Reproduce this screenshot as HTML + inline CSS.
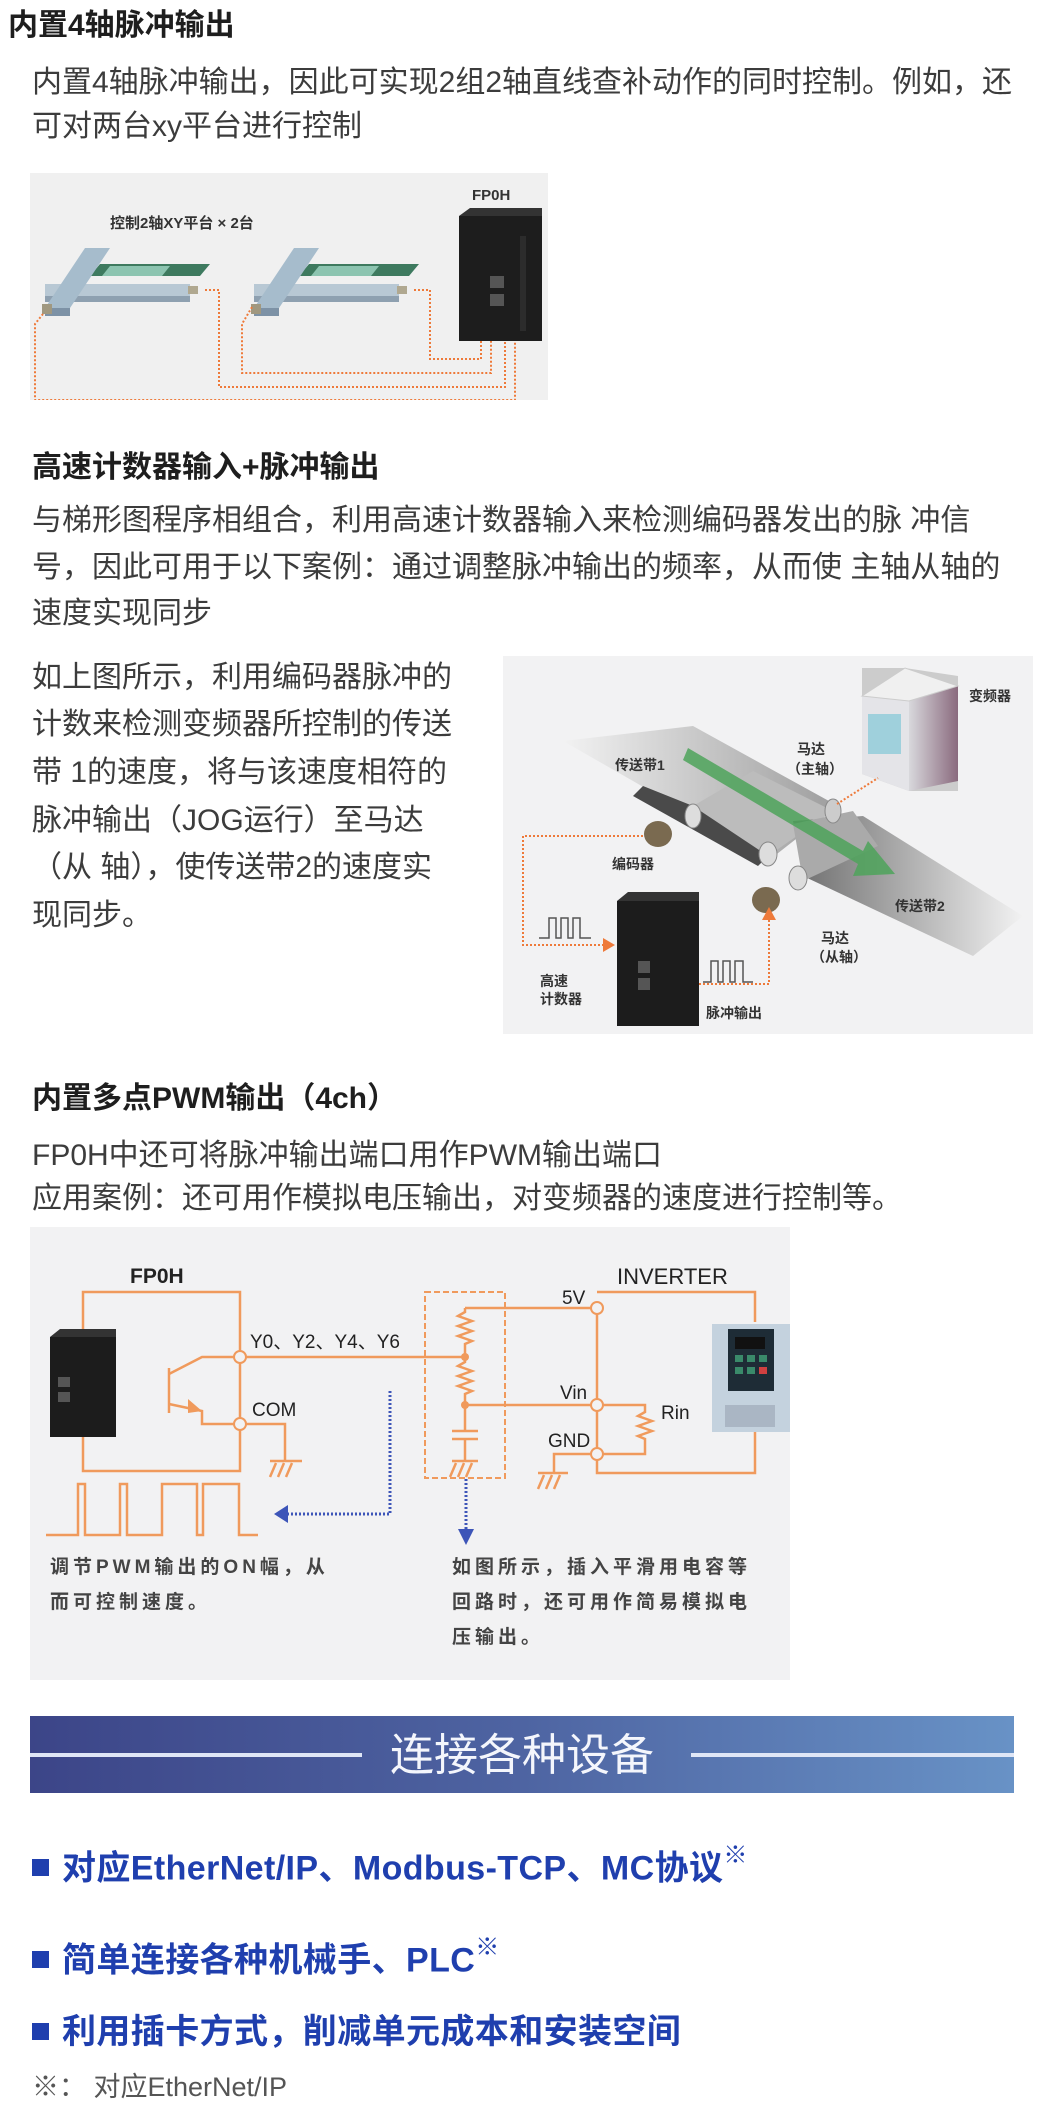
<!DOCTYPE html>
<html><head><meta charset="utf-8">
<style>
*{margin:0;padding:0;box-sizing:border-box}
body{width:1048px;height:2116px;background:#fff;position:relative;overflow:hidden;font-family:"Liberation Sans","Noto Sans CJK SC",sans-serif}
.t{position:absolute;white-space:nowrap;line-height:46px;height:46px}
.h{font-size:30px;font-weight:bold;color:#1e1e1e}
.p{font-size:30px;color:#3c3c3c;left:32px}
.b{font-size:34px;font-weight:bold;color:#1f3fae;left:32px;letter-spacing:0.4px}
.b i{display:inline-block;width:17px;height:17px;background:#1f3fae;margin-right:13px;vertical-align:middle;position:relative;top:-3px}
.b sup{font-size:24px;font-weight:normal;position:relative;top:-4px}
svg{position:absolute}
</style></head><body>

<div class="t h" style="left:8px;top:3px">内置4轴脉冲输出</div>
<div class="t p" style="top:60px">内置4轴脉冲输出，因此可实现2组2轴直线查补动作的同时控制。例如，还</div>
<div class="t p" style="top:104px">可对两台xy平台进行控制</div>

<svg style="left:30px;top:173px" width="518" height="227" viewBox="0 -3 518 227">
<rect x="0" y="-3" width="518" height="230" fill="#f0f0f0"/>
<text x="80" y="52" font-size="15" font-weight="bold" fill="#333" font-family="Liberation Sans,Noto Sans CJK SC,sans-serif">控制2轴XY平台  × 2台</text>
<text x="442" y="24" font-size="15" font-weight="bold" fill="#333" font-family="Liberation Sans,sans-serif">FP0H</text>
<g id="tb">
<polygon points="70,88 180,88 170,100 60,100" fill="#3e7a5f"/>
<polygon points="80,90 140,90 132,100 72,100" fill="#8cc4b0"/>
<polygon points="15,108 160,108 160,120 15,120" fill="#b8c8d4"/>
<polygon points="15,120 160,120 160,126 15,126" fill="#8ea0b0"/>
<polygon points="55,72 80,72 40,132 15,132" fill="#a6bccc"/>
<polygon points="15,132 40,132 40,140 15,140" fill="#7d92a6"/>
<rect x="158" y="110" width="10" height="8" fill="#b0a890"/>
<rect x="12" y="128" width="10" height="10" fill="#a09880"/>
</g>
<use href="#tb" x="209"/>
<g fill="none" stroke="#ee7a3a" stroke-width="2" stroke-dasharray="2 2">
<path d="M384,114 H400 V183 H451 V165"/>
<path d="M222,131 L212,148 V197 H461 V165"/>
<path d="M175,114 H189 V211 H475 V165"/>
<path d="M13,138 L5,148 V224 H485 V165"/>
</g>
<rect x="429" y="40" width="83" height="125" fill="#1d1d1d"/>
<polygon points="429,40 440,32 512,32 512,40" fill="#333"/>
<rect x="460" y="100" width="14" height="12" fill="#555"/><rect x="460" y="118" width="14" height="12" fill="#555"/>
<rect x="490" y="60" width="6" height="95" fill="#2c2c2c"/>
</svg>

<div class="t h" style="left:32px;top:445px">高速计数器输入+脉冲输出</div>
<div class="t p" style="top:498px">与梯形图程序相组合，利用高速计数器输入来检测编码器发出的脉 冲信</div>
<div class="t p" style="top:545px">号，因此可用于以下案例：通过调整脉冲输出的频率，从而使 主轴从轴的</div>
<div class="t p" style="top:591px">速度实现同步</div>

<div class="t p" style="top:655px">如上图所示，利用编码器脉冲的</div>
<div class="t p" style="top:702px">计数来检测变频器所控制的传送</div>
<div class="t p" style="top:750px">带 1的速度，将与该速度相符的</div>
<div class="t p" style="top:798px">脉冲输出（JOG运行）至马达</div>
<div class="t p" style="top:845px">（从 轴），使传送带2的速度实</div>
<div class="t p" style="top:893px">现同步。</div>

<svg style="left:503px;top:656px" width="530" height="378" viewBox="0 0 530 378" font-family="Liberation Sans,Noto Sans CJK SC,sans-serif">
<defs>
<linearGradient id="fade" x1="0" y1="0" x2="1" y2="0"><stop offset="0" stop-color="#f2f2f2"/><stop offset="1" stop-color="#888"/></linearGradient>
<linearGradient id="fade2" x1="0" y1="0" x2="1" y2="0"><stop offset="0" stop-color="#555"/><stop offset="1" stop-color="#f2f2f2"/></linearGradient>
<linearGradient id="inv" x1="0" y1="0" x2="1" y2="0"><stop offset="0" stop-color="#d8d8dc"/><stop offset="1" stop-color="#8a6a7e"/></linearGradient>
</defs>
<rect width="530" height="378" fill="#f2f2f3"/>
<polygon points="60,85 190,70 335,150 265,205 130,125" fill="url(#fade)" opacity="0.8"/>
<polygon points="190,150 250,115 330,155 265,200" fill="#bcbcbc"/>
<polygon points="140,130 190,150 265,200 255,210 130,140" fill="#4a4a4a"/>
<polygon points="290,165 360,160 520,260 470,300 300,220" fill="url(#fade2)" opacity="0.85"/>
<polygon points="290,168 350,155 375,190 300,225" fill="#aaa"/>
<ellipse cx="190" cy="160" rx="8" ry="12" fill="#ddd" stroke="#888"/>
<ellipse cx="265" cy="198" rx="9" ry="12" fill="#ddd" stroke="#888"/>
<ellipse cx="330" cy="155" rx="8" ry="12" fill="#ccc" stroke="#888"/>
<ellipse cx="295" cy="222" rx="9" ry="12" fill="#ddd" stroke="#888"/>
<polygon points="185,92 360,195 365,185 392,218 350,220 355,208 180,104" fill="#4ea35a" opacity="0.85"/>
<ellipse cx="155" cy="178" rx="14" ry="13" fill="#7a6a50"/>
<ellipse cx="263" cy="244" rx="14" ry="13" fill="#7a6a50"/>
<polygon points="359,12 402,12 455,20 455,135 406,135 359,118" fill="#ccc"/>
<polygon points="359,40 406,45 406,135 359,118" fill="#e4e4e8"/>
<polygon points="406,45 455,30 455,125 406,135" fill="url(#inv)"/>
<polygon points="359,40 406,45 455,30 402,12" fill="#f0f0f0" stroke="#ccc"/>
<rect x="365" y="58" width="33" height="40" fill="#9fd0dc"/>
<g fill="none" stroke="#ee7a3a" stroke-width="2" stroke-dasharray="2 2">
<path d="M140,180 H20 V289 H100"/>
<path d="M196,328 H266 V262"/>
<path d="M334,148 L375,122"/>
</g>
<polygon points="100,282 112,289 100,296" fill="#ee7a3a"/>
<polygon points="259,264 266,251 273,264" fill="#ee7a3a"/>
<path d="M36,282 H46 V262 H53 V282 H58 V262 H65 V282 H70 V262 H77 V282 H88" fill="none" stroke="#555" stroke-width="1.5"/>
<path d="M200,326 H208 V305 H215 V326 H220 V305 H227 V326 H232 V305 H240 V326 H250" fill="none" stroke="#555" stroke-width="1.5"/>
<rect x="114" y="245" width="82" height="125" fill="#1c1c1c"/>
<polygon points="114,245 125,236 196,236 196,245" fill="#333"/>
<rect x="135" y="305" width="12" height="12" fill="#555"/><rect x="135" y="322" width="12" height="12" fill="#555"/>
<g font-size="14" font-weight="bold" fill="#333">
<text x="466" y="45">变频器</text>
<text x="294" y="98">马达</text><text x="284" y="118">（主轴）</text>
<text x="112" y="114">传送带1</text>
<text x="109" y="213">编码器</text>
<text x="392" y="255">传送带2</text>
<text x="318" y="287">马达</text><text x="308" y="306">（从轴）</text>
<text x="37" y="330">高速</text><text x="37" y="348">计数器</text>
<text x="203" y="362">脉冲输出</text>
</g>
</svg>

<div class="t h" style="left:32px;top:1076px">内置多点PWM输出（4ch）</div>
<div class="t p" style="top:1133px">FP0H中还可将脉冲输出端口用作PWM输出端口</div>
<div class="t p" style="top:1176px">应用案例：还可用作模拟电压输出，对变频器的速度进行控制等。</div>

<svg style="left:30px;top:1227px" width="760" height="453" viewBox="0 0 760 453" font-family="Liberation Sans,Noto Sans CJK SC,sans-serif">
<rect width="760" height="453" fill="#f2f2f3"/>
<g fill="none" stroke="#f09a5c" stroke-width="2.5">
<path d="M53,65 H210 V244 H53 Z"/>
<path d="M216,130 H435"/>
<path d="M139,141 V186"/>
<path d="M139,147 L172,130 H204"/>
<path d="M139,177 L172,184 V197 H204"/>
<path d="M216,197 H255 V234"/>
<path d="M435,81 H561 M435,81 V85 l-7,4 14,5 -14,5 14,5 -14,5 14,5 -7,3 V135 l-7,4 14,5 -14,5 14,5 -14,5 14,5 -7,3 V204"/>
<path d="M435,178 H561"/>
<path d="M435,212 V234"/>
<path d="M567,75 V172 M567,184 V221 M567,233 V246 H725 V205 M725,95 V65 H567"/>
<path d="M573,178 H615 V185 l-7,4 14,5 -14,5 14,5 -14,5 7,3 V227 H573"/>
<path d="M561,227 H524 V246"/>
<path d="M16,308 H48 V257 H55 V308 H90 V257 H97 V308 H132 V257 H167 V308 H173 V257 H209 V308 H228"/>
</g>
<g fill="none" stroke="#f09a5c" stroke-width="2" stroke-dasharray="6 3">
<rect x="395" y="65" width="80" height="186"/>
</g>
<g stroke="#f09a5c" stroke-width="2.5" fill="none">
<path d="M422,204 H448 M422,212 H448"/>
<path d="M422,234 H448 M426,236 L420,250 M434,236 L428,250 M442,236 L436,250"/>
<path d="M240,234 H272 M246,236 L240,250 M254,236 L248,250 M262,236 L256,250"/>
<path d="M508,246 H538 M514,248 L508,262 M522,248 L516,262 M530,248 L524,262"/>
</g>
<polygon points="158,172 172,184 158,186" fill="#f09a5c"/>
<g fill="#f2f2f3" stroke="#f09a5c" stroke-width="2">
<circle cx="210" cy="130" r="6"/><circle cx="210" cy="197" r="6"/>
<circle cx="567" cy="81" r="6"/><circle cx="567" cy="178" r="6"/><circle cx="567" cy="227" r="6"/>
</g>
<circle cx="435" cy="130" r="4" fill="#f09a5c"/><circle cx="435" cy="178" r="4" fill="#f09a5c"/>
<g fill="none" stroke="#3d55b8" stroke-width="3" stroke-dasharray="2 2">
<path d="M360,164 V287 H258"/>
<path d="M436,252 V304"/>
</g>
<polygon points="244,287 258,278 258,296" fill="#3d55b8"/>
<polygon points="428,302 444,302 436,318" fill="#3d55b8"/>
<rect x="20" y="110" width="66" height="100" fill="#1c1c1c"/>
<polygon points="20,110 30,102 86,102 86,110" fill="#333"/>
<rect x="28" y="150" width="12" height="10" fill="#555"/><rect x="28" y="165" width="12" height="10" fill="#555"/>
<rect x="682" y="97" width="78" height="108" fill="#c4d2de"/>
<rect x="698" y="102" width="46" height="62" fill="#1e2c36"/>
<rect x="705" y="110" width="30" height="12" fill="#111"/>
<rect x="705" y="128" width="8" height="7" fill="#3a8a6a"/><rect x="717" y="128" width="8" height="7" fill="#3a8a6a"/><rect x="729" y="128" width="8" height="7" fill="#3a8a6a"/>
<rect x="705" y="140" width="8" height="7" fill="#3a8a6a"/><rect x="717" y="140" width="8" height="7" fill="#3a8a6a"/><rect x="729" y="140" width="8" height="7" fill="#d04040"/>
<rect x="695" y="178" width="50" height="22" fill="#aab6c4"/>
<g fill="#222" font-size="21">
<text x="100" y="56" font-weight="bold">FP0H</text>
<text x="587" y="57" font-size="22">INVERTER</text>
<text x="220" y="121" font-size="19">Y0、Y2、Y4、Y6</text>
<text x="222" y="189" font-size="19">COM</text>
<text x="532" y="77" font-size="19">5V</text>
<text x="530" y="172" font-size="19">Vin</text>
<text x="518" y="220" font-size="19">GND</text>
<text x="631" y="192" font-size="19">Rin</text>
</g>
<g fill="#444" font-size="19" font-weight="bold" letter-spacing="4">
<text x="20" y="346">调节PWM输出的ON幅，从</text>
<text x="20" y="381">而可控制速度。</text>
<text x="422" y="346">如图所示，插入平滑用电容等</text>
<text x="422" y="381">回路时，还可用作简易模拟电</text>
<text x="422" y="416">压输出。</text>
</g>
</svg>

<svg style="left:30px;top:1716px" width="984" height="77" viewBox="0 0 984 77">
<defs><linearGradient id="bn" x1="0" x2="1"><stop offset="0" stop-color="#3c4588"/><stop offset="0.5" stop-color="#4e64a2"/><stop offset="1" stop-color="#6892c6"/></linearGradient></defs>
<rect width="984" height="77" fill="url(#bn)"/>
<rect x="0" y="37" width="332" height="4" fill="#dfe6f6"/>
<rect x="661" y="37" width="323" height="4" fill="#dfe6f6"/>
<text x="492" y="54" text-anchor="middle" font-size="44" fill="#f4f6fc" font-family="Liberation Sans,Noto Sans CJK SC,sans-serif">连接各种设备</text>
</svg>

<div class="t b" style="top:1837px"><i></i>对应EtherNet/IP、Modbus-TCP、MC协议<sup>※</sup></div>
<div class="t b" style="top:1929px"><i></i>简单连接各种机械手、PLC<sup>※</sup></div>
<div class="t b" style="top:2009px"><i></i>利用插卡方式，削减单元成本和安装空间</div>
<div class="t" style="left:32px;top:2064px;font-size:27px;color:#555">※：&nbsp;对应EtherNet/IP</div>
</body></html>
